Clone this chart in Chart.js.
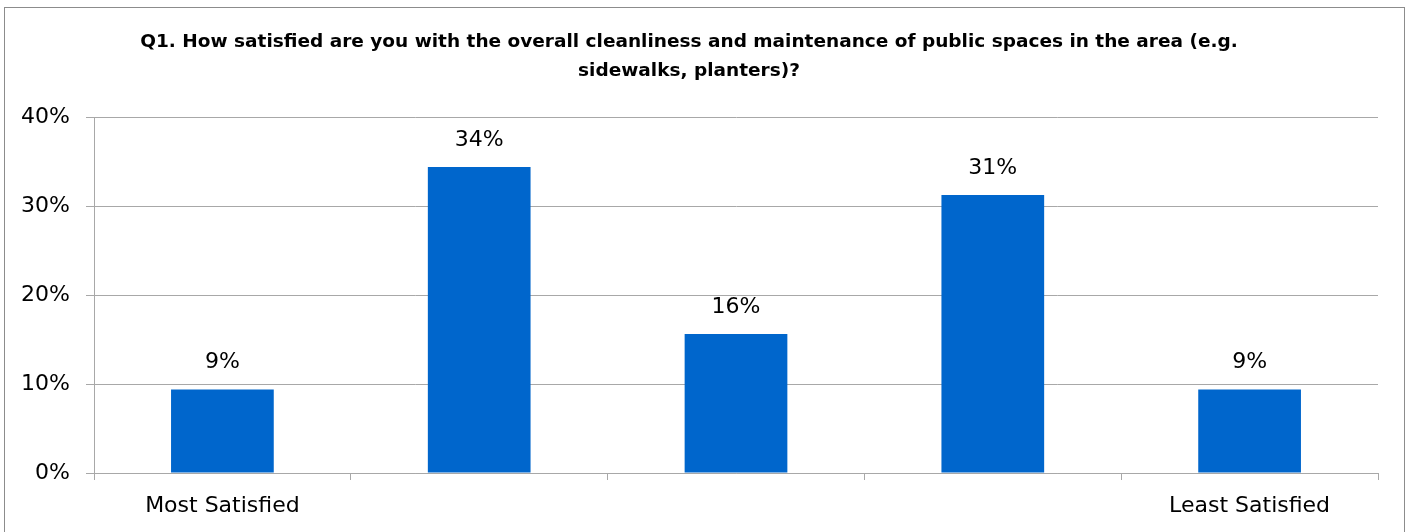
<!DOCTYPE html>
<html>
<head>
<meta charset="utf-8">
<script src="https://cdn.jsdelivr.net/npm/chart.js@4"></script>
<style>
  html, body { margin: 0; padding: 0; background: #fff; }
  #wrap { position: relative; width: 1412px; height: 532px; overflow: hidden; }
  #frame { position: absolute; left: 4px; top: 7px; width: 1401px; height: 560px; border: 1px solid #8c8c8c; box-sizing: border-box; pointer-events: none; }
  canvas { position: absolute; left: 0; top: 0; }
</style>
</head>
<body>
<div id="wrap">
  <canvas id="c" width="1412" height="532"></canvas>
  <div id="frame"></div>
</div>
<script>
const categories = ["Most Satisfied", "", "", "", "Least Satisfied"];
const values = [9.375, 34.375, 15.625, 31.25, 9.375];
const yTicks = [0, 10, 20, 30, 40];
const titleLines = [
  "Q1. How satisfied are you with the overall cleanliness and maintenance of public spaces in the area (e.g.",
  "sidewalks, planters)?"
];

const FONT = "'DejaVu Sans', sans-serif";

const barLabels = {
  id: 'barLabels',
  afterDatasetsDraw(chart) {
    const ctx = chart.ctx;
    const meta = chart.getDatasetMeta(0);
    ctx.save();
    ctx.font = "22px " + FONT;
    ctx.fillStyle = "#000";
    ctx.textAlign = "center";
    ctx.textBaseline = "middle";
    meta.data.forEach((bar, i) => {
      ctx.fillText(Math.round(values[i]) + "%", bar.x, bar.y - 27);
    });
    ctx.restore();
  }
};

new Chart(document.getElementById('c'), {
  type: 'bar',
  data: {
    labels: categories,
    datasets: [{
      data: values,
      backgroundColor: '#0066CC',
      borderWidth: 0,
      barPercentage: 0.4,
      categoryPercentage: 1.0
    }]
  },
  options: {
    responsive: false,
    animation: false,
    events: [],
    layout: { padding: { left: 0, right: 34, top: 0, bottom: 0 } },
    plugins: {
      legend: { display: false },
      tooltip: { enabled: false },
      title: {
        display: true,
        text: titleLines,
        color: '#000',
        font: { family: FONT, size: 18.5, weight: 'bold', lineHeight: '29px' },
        padding: { top: 28, bottom: 31 }
      }
    },
    scales: {
      x: {
        offset: true,
        grid: { display: true, offset: true, drawOnChartArea: false, drawTicks: true, tickLength: 7, color: '#a8a8a8', lineWidth: 1 },
        border: { display: true, color: '#a8a8a8', width: 1 },
        ticks: { color: '#000', font: { family: FONT, size: 22 }, padding: 13, maxRotation: 0, autoSkip: false },
        afterFit(scale) { scale.height = 59; }
      },
      y: {
        min: 0,
        max: 40,
        afterBuildTicks(scale) { scale.ticks = yTicks.map(v => ({ value: v })); },
        grid: { color: '#a8a8a8', lineWidth: 1, drawTicks: true, tickLength: 8 },
        border: { display: true, color: '#a8a8a8', width: 1 },
        ticks: { color: '#000', font: { family: FONT, size: 22 }, padding: 16, callback: v => v + '%' },
        afterFit(scale) { scale.width = 94; }
      }
    }
  },
  plugins: [barLabels]
});
</script>
</body>
</html>
